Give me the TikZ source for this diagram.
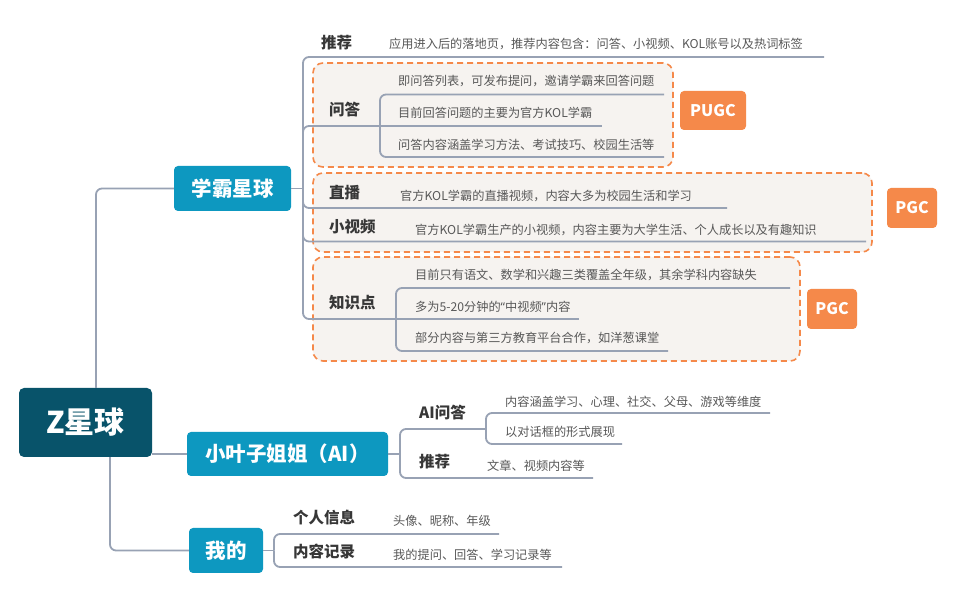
\documentclass[tikz,border=0pt]{standalone}
\usepackage{fontspec}
\setmainfont{Noto Sans CJK SC}
\newfontfamily\latq{Noto Sans}
\definecolor{rootc}{RGB}{8,83,106}
\definecolor{lonec}{RGB}{13,152,192}
\definecolor{linec}{RGB}{152,162,180}
\definecolor{orangec}{RGB}{245,137,74}
\definecolor{beigec}{RGB}{246,243,240}
\definecolor{labelc}{RGB}{55,55,55}
\definecolor{textc}{RGB}{88,88,88}
\newcommand\fsz[1]{\fontsize{#1}{#1}\selectfont}
\begin{document}
\begin{tikzpicture}[x=1pt,y=-1pt,
  conn/.style={draw=linec, line width=1.8pt, rounded corners=6pt},
  rootbox/.style={fill=rootc, rounded corners=5pt, text=white, inner sep=0pt, font=\bfseries\fsz{30}},
  lonebox/.style={fill=lonec, rounded corners=4pt, text=white, inner sep=0pt, font=\bfseries\fsz{20.5}},
  lbl/.style={anchor=west, text=labelc, inner sep=0pt, font=\bfseries\fsz{15.5}},
  txt/.style={anchor=west, text=textc, inner sep=0pt, font=\fsz{12.2}},
  grp/.style={draw=orangec, dash pattern=on 6pt off 4pt, line width=1.6pt, fill=beigec, rounded corners=10pt, inner sep=0pt},
  tagbox/.style={fill=orangec, rounded corners=4pt, text=white, inner sep=0pt, font=\bfseries\fsz{16}}]
\path[fill=white] (0,0) rectangle (954,601);
\useasboundingbox (0,0) rectangle (954,601);

% groups
\node[grp, minimum width=360pt, minimum height=104pt] (g1) at (493,115) {};
\node[grp, minimum width=559pt, minimum height=79pt] (g2) at (592.5,212.5) {};
\node[grp, minimum width=487pt, minimum height=104pt] (g3) at (556.5,309) {};

% main boxes
\node[rootbox, minimum width=133pt, minimum height=69pt] (root) at (85.5,422.5) {Z星球};
\node[lonebox, minimum width=117pt, minimum height=45pt] (xb) at (232.5,188.5) {学霸星球};
\node[lonebox, minimum width=201pt, minimum height=44pt] (xyz) at (287.5,454) {小叶子姐姐（AI）};
\node[lonebox, minimum width=74pt, minimum height=45pt] (wo) at (226,550.5) {我的};

% tags
\node[tagbox, minimum width=66pt, minimum height=39pt] (pugc) at (713,110.5) {PUGC};
\node[tagbox, minimum width=50pt, minimum height=40pt] (pgca) at (912,208) {PGC};
\node[tagbox, minimum width=50pt, minimum height=40pt] (pgcb) at (832,309) {PGC};

% labels
\node[lbl] (l-tj) at (321,43) {推荐};
\node[lbl] (l-wd) at (329,110) {问答};
\node[lbl] (l-zb) at (329,193) {直播};
\node[lbl] (l-xsp) at (329,227) {小视频};
\node[lbl] (l-zs) at (329,303) {知识点};
\node[lbl] (l-ai) at (419,413) {AI问答};
\node[lbl] (l-tj2) at (419,462) {推荐};
\node[lbl] (l-gr) at (293,518) {个人信息};
\node[lbl] (l-nr) at (293,552) {内容记录};

% texts
\node[txt] (t-tj) at (389,44) {应用进入后的落地页，推荐内容包含：问答、小视频、KOL账号以及热词标签};
\node[txt] (t-wd1) at (398,81) {即问答列表，可发布提问，邀请学霸来回答问题};
\node[txt] (t-wd2) at (398,113) {目前回答问题的主要为官方KOL学霸};
\node[txt] (t-wd3) at (398,145) {问答内容涵盖学习方法、考试技巧、校园生活等};
\node[txt] (t-zb) at (400,196) {官方KOL学霸的直播视频，内容大多为校园生活和学习};
\node[txt] (t-xsp) at (415,230) {官方KOL学霸生产的小视频，内容主要为大学生活、个人成长以及有趣知识};
\node[txt] (t-zs1) at (415,275) {目前只有语文、数学和兴趣三类覆盖全年级，其余学科内容缺失};
\node[txt] (t-zs2) at (415,307) {多为5-20分钟的{\latq “}中视频{\latq ”}内容};
\node[txt] (t-zs3) at (415,338) {部分内容与第三方教育平台合作，如洋葱课堂};
\node[txt] (t-ai1) at (505,402) {内容涵盖学习、心理、社交、父母、游戏等维度};
\node[txt] (t-ai2) at (505,432) {以对话框的形式展现};
\node[txt] (t-tj2) at (487,466) {文章、视频内容等};
\node[txt] (t-gr) at (393,521) {头像、昵称、年级};
\node[txt] (t-nr) at (393,555) {我的提问、回答、学习记录等};

% junctions and underline ends
\coordinate (xbJ) at (303,188.5);
\coordinate (tjE) at (824,57);
\coordinate (wdJ) at (380,126);
\coordinate (wd1E) at (664,94.5);
\coordinate (wd2E) at (602,126);
\coordinate (wd3E) at (664,157);
\coordinate (zbE) at (727,208);
\coordinate (xspE) at (866,241.5);
\coordinate (zsJ) at (396,319);
\coordinate (zs1E) at (790,288);
\coordinate (zs2E) at (579,319);
\coordinate (zs3E) at (668,351);
\coordinate (xyzJ) at (400,454);
\coordinate (aiJ) at (486,429);
\coordinate (ai1E) at (770,413);
\coordinate (ai2E) at (622,444);
\coordinate (tj2E) at (593,478);
\coordinate (woJ) at (274,550.5);
\coordinate (grE) at (499,534);
\coordinate (nrE) at (562,567);

% connectors
\draw[conn] ([xshift=10.5pt]root.north) |- (xb.west);
\draw[conn] (root.east |- xyz.west) -- (xyz.west);
\draw[conn] ([xshift=24.5pt]root.south) |- (wo.west);

\draw[conn] (xb.east) -- (xbJ);
\draw[conn] (xbJ) |- (tjE);
\draw[conn] (xbJ) |- (wdJ);
\draw[conn] (xbJ) |- (zbE);
\draw[conn] (xbJ) |- (xspE);
\draw[conn] (xbJ) |- (zsJ);
\draw[conn] (wdJ) |- (wd1E);
\draw[conn] (wdJ) -- (wd2E);
\draw[conn] (wdJ) |- (wd3E);
\draw[conn] (zsJ) |- (zs1E);
\draw[conn] (zsJ) -- (zs2E);
\draw[conn] (zsJ) |- (zs3E);

\draw[conn] (xyz.east) -- (xyzJ);
\draw[conn] (xyzJ) |- (aiJ);
\draw[conn] (xyzJ) |- (tj2E);
\draw[conn] (aiJ) |- (ai1E);
\draw[conn] (aiJ) |- (ai2E);

\draw[conn] (wo.east) -- (woJ);
\draw[conn] (woJ) |- (grE);
\draw[conn] (woJ) |- (nrE);
\end{tikzpicture}
\end{document}
